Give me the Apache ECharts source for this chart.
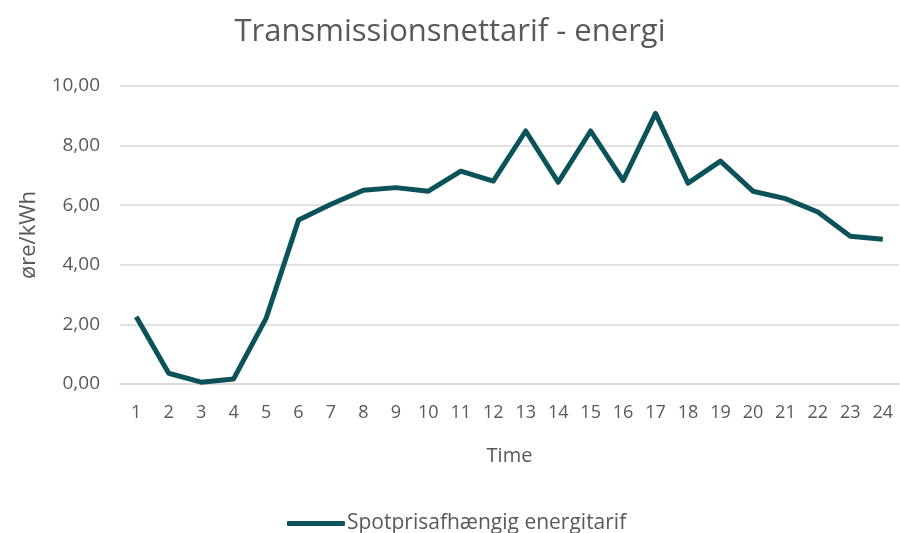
<!DOCTYPE html>
<html>
<head>
<meta charset="utf-8">
<script src="https://cdn.jsdelivr.net/npm/echarts@6/dist/echarts.min.js"></script>
<style>
  html, body { margin: 0; padding: 0; background: #fff; }
  #chart { width: 900px; height: 533px; }
</style>
</head>
<body>
<div id="chart"></div>
<script>
// timer 1-24
var hours = ['1', '2', '3', '4', '5', '6', '7', '8', '9', '10', '11', '12',
  '13', '14', '15', '16', '17', '18', '19', '20', '21', '22', '23', '24']
// øre/kWh
var energiTarif = [2.26, 0.36, 0.06, 0.17, 2.2, 5.5, 6.03, 6.5, 6.59, 6.47, 7.14, 6.81,
  8.49, 6.77, 8.49, 6.83, 9.08, 6.74, 7.48, 6.47, 6.22, 5.77, 4.96, 4.86]
var yTicks = [0, 2, 4, 6, 8, 10]

var textColor = '#595959'
var font = 'Open Sans'

var myChart = echarts.init(document.getElementById('chart'))
myChart.setOption({
  backgroundColor: '#fff',
  animation: false,
  title: {
    text: 'Transmissionsnettarif - energi',
    left: 'center',
    top: 12,
    textStyle: { color: textColor, fontSize: 31, fontWeight: 'normal', fontFamily: font }
  },
  grid: { left: 120, right: 1, top: 86, bottom: 149 },
  xAxis: {
    type: 'category',
    data: hours,
    boundaryGap: true,
    name: 'Time',
    nameLocation: 'middle',
    nameGap: 62,
    nameTextStyle: { color: textColor, fontSize: 20, fontFamily: font },
    axisLine: { lineStyle: { color: '#d9d9d9', width: 1.5 } },
    axisTick: { show: false },
    axisLabel: { color: textColor, fontSize: 18, fontFamily: font, margin: 20 }
  },
  yAxis: {
    type: 'value',
    min: yTicks[0],
    max: yTicks[yTicks.length - 1],
    interval: 2,
    name: 'øre/kWh',
    nameLocation: 'middle',
    nameGap: 80,
    nameTextStyle: { color: textColor, fontSize: 22, fontFamily: font },
    axisLine: { show: false },
    axisTick: { show: false },
    axisLabel: {
      color: textColor, fontSize: 19, fontFamily: font, margin: 20,
      formatter: function (v) { return v.toFixed(2).replace('.', ',') }
    },
    splitLine: { lineStyle: { color: '#d9d9d9', width: 1.5 } }
  },
  legend: {
    bottom: -6,
    left: 282,
    itemWidth: 58,
    itemHeight: 5,
    itemGap: 3,
    icon: 'roundRect',
    textStyle: { color: textColor, fontSize: 21, fontFamily: font, padding: [0, 0, 0, -3] },
    data: ['Spotprisafhængig energitarif']
  },
  series: [{
    name: 'Spotprisafhængig energitarif',
    type: 'line',
    data: energiTarif,
    symbol: 'none',
    lineStyle: { color: '#0c525a', width: 5, join: 'round' },
    itemStyle: { color: '#0c525a' }
  }]
})
</script>
</body>
</html>
